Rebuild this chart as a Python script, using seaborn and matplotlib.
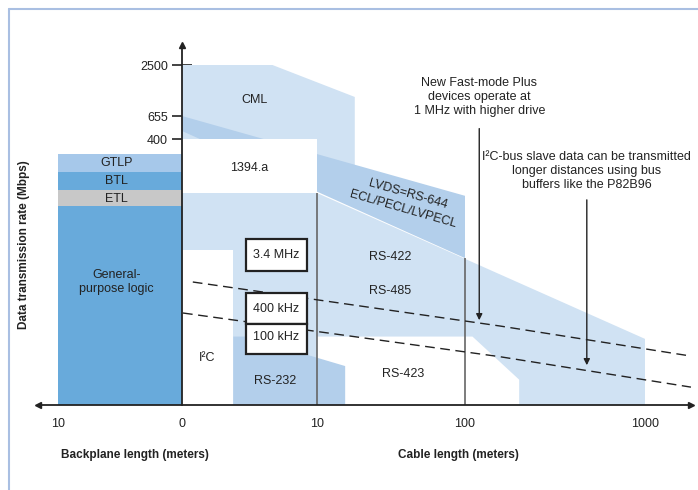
import numpy as np
import seaborn as sns
import matplotlib.pyplot as plt

# Backplane lengths are entered as negative metres so both length axes share one x scale.
x_ticks = [-10, 0, 10, 100, 1000]
x_tick_labels = ['10', '0', '10', '100', '1000']
y_ticks = [0.1, 1, 10, 35, 400, 655, 2500]
y_tick_labels = ['0.1', '1', '10', '35', '400', '655', '2500']

# logic families on the backplane (Mbps)
logic_names = ['General-\npurpose logic', 'ETL', 'BTL', 'GTLP']
logic_low = [0.01, 20, 40, 90]
logic_high = [20, 40, 90, 200]
logic_label_y = [1.0, 27, 60, 135]
logic_colors = ['#68aadb', '#c8c8c8', '#68aadb', '#a6c8ea']

# cable standards, outlines as (cable length m, rate Mbps)
cml_x = [0, 6.7, 18, 18, 0]
cml_y = [2500, 2500, 1080, 100, 100]
lvds_x = [0, 100, 100, 0]
lvds_y = [655, 31, 2.5, 475]
rs422_x = [0, 10, 1000, 1000, 0]
rs422_y = [35, 35, 0.088, 0.01, 0.01]
i2c_x = [0, 3.8, 3.8, 0]
i2c_y = [3.4, 3.4, 0.01, 0.01]
rs423_x = [10, 110, 200, 200, 10]
rs423_y = [0.095, 0.095, 0.023, 0.01, 0.01]
rs232_x = [3.8, 4.7, 15.5, 15.5, 3.8]
rs232_y = [0.095, 0.095, 0.036, 0.01, 0.01]
fw_x = [0, 10, 10, 0]
fw_y = [400, 400, 35, 35]

# I2C speed boxes: left, right, bottom, top
speed_names = ['3.4 MHz', '400 kHz', '100 kHz']
speed_left = [4.74, 4.74, 4.74]
speed_right = [9.26, 9.26, 9.26]
speed_low = [1.5, 0.161, 0.0535]
speed_high = [5.2, 0.62, 0.161]

# dashed I2C reach lines
fmp_x = [0.8, 156, 1800]
fmp_y = [1.0, 0.148, 0.05]
buf_x = [0.07, 156, 1800]
buf_y = [0.26, 0.049, 0.018]

region_names = ['CML', '1394.a', 'RS-422', 'RS-485', 'RS-423', 'RS-232', 'I²C']
region_x = [5.4, 5.0, 31, 31, 38, 6.9, 1.85]
region_y = [1000, 110, 2.6, 0.68, 0.028, 0.022, 0.047]

LIGHT = '#d0e2f3'
MID = '#b3cfeb'


X_H = np.array([-30, -10, 0, 10, 20, 30, 40])
X_PX = np.array([-190, 58, 182, 317, 465, 645, 825])


def x_fwd(s):
    s = np.asarray(s, dtype=float)
    h = np.where(s > 10, 10 + 10 * np.log10(np.maximum(s, 10) / 10), s)
    return np.interp(h, X_H, X_PX)


def x_inv(p):
    h = np.interp(np.asarray(p, dtype=float), X_PX, X_H)
    return np.where(h > 10, 10 * 10 ** ((h - 10) / 10), h)


Y_LOG = np.array([-5, -2, -1, 0, 1, np.log10(35), np.log10(400),
                  np.log10(655), np.log10(2500), np.log10(5000), 6])
Y_PX = np.array([615, 405, 335, 282, 222, 193, 139, 116, 65, 40, -162])


def y_fwd(v):
    v = np.asarray(v, dtype=float)
    return -np.interp(np.log10(np.clip(v, 1e-9, None)), Y_LOG, Y_PX)


def y_inv(p):
    return 10 ** np.interp(np.asarray(p, dtype=float), -Y_PX, Y_LOG)


sns.set_theme(style='white')
plt.rcParams['font.family'] = ['Liberation Sans', 'DejaVu Sans']
ink = '#222222'

fig = plt.figure(figsize=(6.98, 4.90), dpi=100)
ax = fig.add_axes([0, 0, 1, 1])
ax.set_xscale('function', functions=(x_fwd, x_inv))
ax.set_yscale('function', functions=(y_fwd, y_inv))
ax.set_xlim(float(x_inv(0)), float(x_inv(698)))
ax.set_ylim(float(y_inv(-490)), float(y_inv(0)))

# backplane logic families
for name, lo, hi, ly, c in zip(logic_names, logic_low, logic_high, logic_label_y, logic_colors):
    ax.fill_between([-10, 0], lo, hi, color=c, lw=0, zorder=1)
    ax.text(-5.3, ly, name, ha='center', va='center', fontsize=9, color=ink, zorder=6)

# cable regions
ax.fill(cml_x, cml_y, color=LIGHT, lw=0, zorder=1)
ax.fill(lvds_x, lvds_y, color=MID, lw=0, zorder=1.1)
ax.fill(rs422_x, rs422_y, color=LIGHT, lw=0, zorder=1.2)
ax.fill(i2c_x, i2c_y, color='white', lw=0, zorder=1.3)
ax.fill(rs423_x, rs423_y, color='white', lw=0, zorder=1.3)
ax.fill(rs232_x, rs232_y, color=MID, lw=0, zorder=1.4)
ax.fill(fw_x, fw_y, color='white', lw=0, zorder=1.5)

ax.vlines([10, 100], 0.01, [35, 2.5], color='#666666', lw=1.2, zorder=2)

sns.lineplot(x=fmp_x, y=fmp_y, ax=ax, color=ink, lw=1, linestyle=(0, (7, 4)), zorder=3)
sns.lineplot(x=buf_x, y=buf_y, ax=ax, color=ink, lw=1, linestyle=(0, (7, 4)), zorder=3)

for name, l, r, lo, hi in zip(speed_names, speed_left, speed_right, speed_low, speed_high):
    ax.fill([l, r, r, l], [lo, lo, hi, hi], facecolor='white', edgecolor=ink, lw=1.6, zorder=4)
    ax.text((l * r) ** 0.5 if False else (l + r) / 2, (lo * hi) ** 0.5, name,
            ha='center', va='center', fontsize=9, color=ink, zorder=6)

for name, tx, ty in zip(region_names, region_x, region_y):
    ax.text(tx, ty, name, ha='center', va='center', fontsize=9, color=ink, zorder=6)

ax.text(41, 33.5, 'LVDS=RS-644', ha='center', va='center', rotation=-16,
        rotation_mode='anchor', fontsize=9, color=ink, zorder=6)
ax.text(38, 17.5, 'ECL/PECL/LVPECL', ha='center', va='center', rotation=-16,
        rotation_mode='anchor', fontsize=9, color=ink, zorder=6)

ax.text(120, 1080, 'New Fast-mode Plus\ndevices operate at\n1 MHz with higher drive',
        ha='center', va='center', fontsize=9, color=ink, linespacing=1.25)
ax.text(475, 94, 'I²C-bus slave data can be transmitted\nlonger distances using bus\nbuffers like the P82B96',
        ha='center', va='center', fontsize=9, color=ink, linespacing=1.25)
arrow = dict(arrowstyle='-|>', color=ink, lw=1, mutation_scale=9, shrinkA=0, shrinkB=0)
ax.annotate('', xy=(120, 0.19), xytext=(120, 500), arrowprops=arrow, zorder=5)
ax.annotate('', xy=(475, 0.037), xytext=(475, 26), arrowprops=arrow, zorder=5)

# axes through the origin
for side in ['top', 'right']:
    ax.spines[side].set_visible(False)
ax.spines['left'].set_position(('data', 0))
ax.spines['bottom'].set_position(('data', 0.01))
ax.spines['left'].set_bounds(0.01, 4300)
ax.spines['bottom'].set_bounds(-11.6, 1800)
for side in ['left', 'bottom']:
    ax.spines[side].set_color(ink)
    ax.spines[side].set_linewidth(1.3)
    ax.spines[side].set_zorder(5)
ax.plot([0], [4300], marker='^', ms=5, color=ink, clip_on=False, zorder=5)
ax.plot([-11.6], [0.01], marker='<', ms=5, color=ink, clip_on=False, zorder=5)
ax.plot([1800], [0.01], marker='>', ms=5, color=ink, clip_on=False, zorder=5)

ax.set_xticks(x_ticks, labels=x_tick_labels)
ax.set_yticks(y_ticks, labels=y_tick_labels)
ax.minorticks_off()
ax.tick_params(axis='y', left=True, direction='inout', length=14, width=1.2,
               color=ink, pad=3, labelsize=9, labelcolor=ink)
ax.tick_params(axis='x', bottom=True, length=0, pad=9, labelsize=9, labelcolor=ink)

ax.set_ylabel('Data transmission rate (Mbps)', fontsize=8.5, fontweight='bold', color=ink)
ax.yaxis.set_label_coords(30 / 698, 1 - 245 / 490)
ax.text(135 / 698, 1 - 455 / 490, 'Backplane length (meters)', transform=ax.transAxes,
        ha='center', va='center', fontsize=8.5, fontweight='bold', color=ink)
ax.text(458 / 698, 1 - 455 / 490, 'Cable length (meters)', transform=ax.transAxes,
        ha='center', va='center', fontsize=8.5, fontweight='bold', color=ink)

# outer panel border
frame = '#a9bfe2'
ax.plot([9 / 698, 9 / 698], [0, 1 - 9 / 490], transform=ax.transAxes, color=frame, lw=1.5, clip_on=False)
ax.plot([9 / 698, 1], [1 - 9 / 490, 1 - 9 / 490], transform=ax.transAxes, color=frame, lw=1.5, clip_on=False)

fig.savefig('out.png', dpi=100)
